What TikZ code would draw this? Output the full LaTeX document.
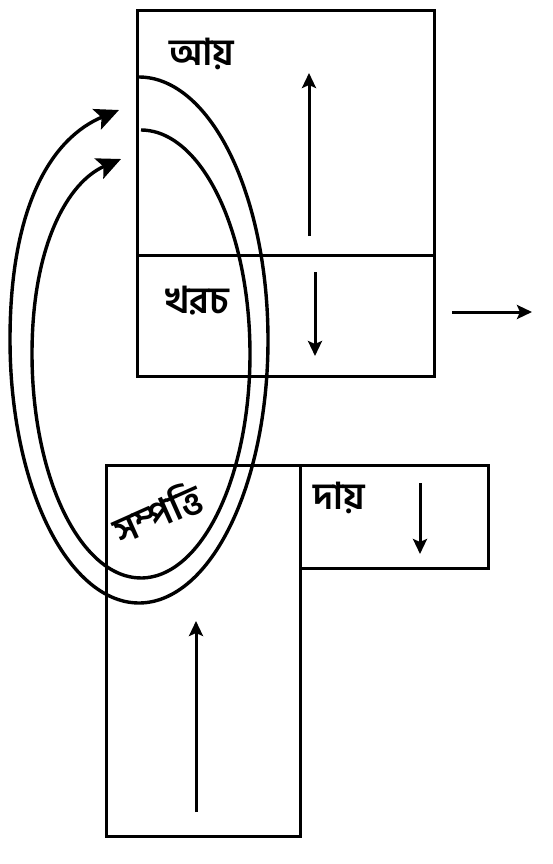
\documentclass[tikz,border=0pt]{standalone}
\usepackage{fontspec}
\newfontfamily\bnfont[Script=Bengali]{Hind Siliguri}
\usetikzlibrary{arrows.meta}
\begin{document}
\begin{tikzpicture}[x=1pt,y=-1pt,
  box/.style={draw,line width=3pt,inner sep=0pt,anchor=north west},
  lbl/.style={font=\bnfont\bfseries\fontsize{37}{37}\selectfont,inner sep=0pt},
  flow/.style={line width=3pt,-{Stealth[length=15pt,width=14pt,inset=3pt]}},
  cyc/.style={line width=3.4pt,-{Stealth[length=24pt,width=22pt,inset=5pt]}}]
\useasboundingbox (0,0) rectangle (553,864);
% boxes
\node[box,minimum width=297pt,minimum height=245pt] (income) at (136,9) {};
\node[box,minimum width=297pt,minimum height=121pt] (expense) at (136,254) {};
\node[box,minimum width=194pt,minimum height=371pt] (asset) at (105,464) {};
\node[box,minimum width=188pt,minimum height=103pt] (liab) at (299,464) {};
% labels
\node[lbl] (tIncome) at (202,54) {আয়};
\node[lbl] (tExpense) at (197,301) {খরচ};
\node[lbl] (tLiab) at (339,498) {দায়};
\node[lbl,rotate=24] (tAsset) at (157,513) {সম্পত্তি};
% straight arrows
\coordinate (a1s) at (309,236); \coordinate (a1e) at (309,73);
\coordinate (a2s) at (315,272); \coordinate (a2e) at (315,356);
\coordinate (a3s) at (420,483); \coordinate (a3e) at (420,554);
\coordinate (a4s) at (196,812); \coordinate (a4e) at (196,621);
\coordinate (a5s) at (452,312); \coordinate (a5e) at (532,312);
\draw[flow] (a1s) -- (a1e);
\draw[flow] (a2s) -- (a2e);
\draw[flow] (a3s) -- (a3e);
\draw[flow] (a4s) -- (a4e);
\draw[flow] (a5s) -- (a5e);
% cycle rings
\coordinate (outerTip) at (119,110);
\coordinate (innerTip) at (121,159);
\draw[cyc] plot[domain=90:-180,samples=120,smooth] ({139+129*cos(\x)},{340-263*sin(\x)})
   .. controls (10,205) and (52,138) .. (outerTip);
\draw[cyc] plot[domain=90:-180,samples=120,smooth] ({141+109*cos(\x)},{354-224*sin(\x)})
   .. controls (32,245) and (68,182) .. (innerTip);
\end{tikzpicture}
\end{document}
